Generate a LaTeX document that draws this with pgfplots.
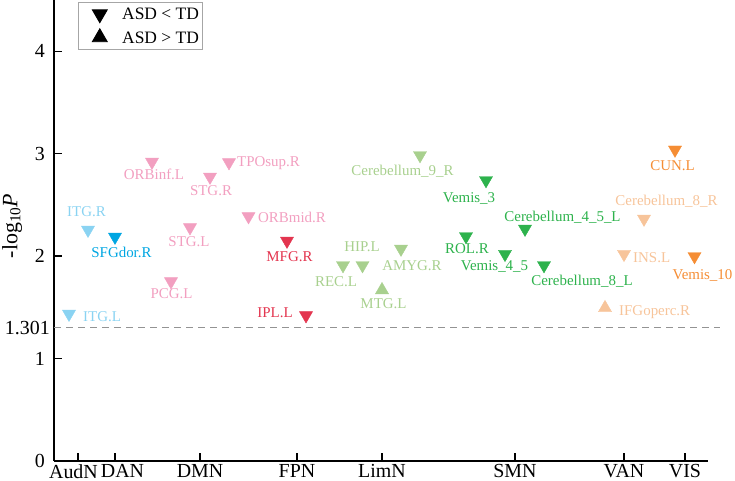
\documentclass[border=0pt]{standalone}
\usepackage{fontspec}
\setmainfont{Liberation Serif}
\usepackage{pgfplots}
\pgfplotsset{compat=1.18}

% network colours
\definecolor{audn}{HTML}{8AD3F2}
\definecolor{dan}{HTML}{00A6E2}
\definecolor{dmn}{HTML}{F29FC0}
\definecolor{fpn}{HTML}{E3354F}
\definecolor{limn}{HTML}{A8D08E}
\definecolor{smn}{HTML}{2DB24C}
\definecolor{van}{HTML}{F7C49A}
\definecolor{vis}{HTML}{F58D34}

\pgfplotsset{
  down/.style={only marks, forget plot, mark=triangle*, mark size=7.6bp,
    color=#1, mark options={rotate=180, fill=#1, draw=#1}},
  up/.style={only marks, forget plot, mark=triangle*, mark size=7.6bp,
    color=#1, mark options={fill=#1, draw=#1}},
}
\tikzset{lab/.style={inner sep=0pt, text height=9.9bp, text depth=0pt,
    font=\fontsize{15}{18}\selectfont}}

\begin{document}
\begin{tikzpicture}
\begin{axis}[
  at={(0,0)}, anchor=south west,
  scale only axis, width=654bp, height=461bp,
  xmin=0, xmax=654, ymin=0, ymax=4.5,
  clip=false,
  axis lines=left, axis line style={-, line width=1.4bp},
  tick style={line width=1.4bp, black}, tick align=inside, major tick length=8bp,
  xtick={24,61,146,243,328,461,570,631},
  xticklabels={AudN\hspace*{9bp},\hspace*{15bp}DAN,DMN,FPN,LimN,SMN,VAN,VIS},
  ytick={0,1,2,3,4},
  extra y ticks={1.301}, extra y tick labels={1.301},
  extra y tick style={major tick length=0pt, yticklabel style={xshift=5bp}},
  /pgf/number format/assume math mode=true,
  ticklabel style={font=\fontsize{20}{23}\selectfont},
  xticklabel style={inner sep=0pt, yshift=-3bp},
  yticklabel style={inner sep=0pt, xshift=-9bp},
  ylabel={-log\textsubscript{10}\textit{P}},
  ylabel style={at={(axis description cs:-0.064,0.51)}, anchor=center,
    font=\fontsize{22}{25}\selectfont},
  legend cell align=left,
  legend style={at={(axis description cs:0.0367,0.9957)}, anchor=north west,
    draw=gray!70, line width=0.8bp, font=\fontsize{17.5}{21}\selectfont,
    inner xsep=2bp, inner ysep=4bp, row sep=6bp,
    nodes={inner sep=2bp, text depth=0pt}},
]
\addlegendimage{legend image code/.code={\path (0,0) (39bp,0);
    \path plot[mark=triangle*, mark size=8.6bp,
      mark options={rotate=180, draw=none, fill=black}] coordinates {(19bp,0)};}}
\addlegendentry{ASD < TD}
\addlegendimage{legend image code/.code={\path (0,0) (39bp,0);
    \path plot[mark=triangle*, mark size=8.6bp,
      mark options={draw=none, fill=black}] coordinates {(19bp,0)};}}
\addlegendentry{ASD > TD}

% significance threshold, P = 0.05
\addplot[forget plot, gray!85, line width=1.2bp, dash pattern=on 7bp off 5bp]
  coordinates {(0,1.301) (666,1.301)};

% AudN
\addplot[down=audn] coordinates {(34,2.256) (15,1.436)};
% DAN
\addplot[down=dan] coordinates {(61,2.188)};
% DMN
\addplot[down=dmn] coordinates {(98,2.920) (156,2.774) (175,2.915)
  (136,2.280) (194.5,2.388) (117,1.753)};
% FPN
\addplot[down=fpn] coordinates {(233,2.149) (252,1.421)};
% LimN
\addplot[down=limn] coordinates {(366,2.984) (289,1.910) (308.5,1.910) (347,2.071)};
\addplot[up=limn] coordinates {(328,1.669)};
% SMN
\addplot[down=smn] coordinates {(432,2.740) (471,2.266) (412,2.193)
  (451,2.020) (490,1.910)};
% VAN
\addplot[down=van] coordinates {(590,2.364) (570,2.020)};
\addplot[up=van] coordinates {(551,1.494)};
% VIS
\addplot[down=vis] coordinates {(621,3.038) (640.5,1.998)};

% region labels
\node[lab, text=audn] at (axis cs:32.5,2.431) {ITG.R};
\node[lab, text=audn, anchor=west] at (axis cs:29,1.406) {ITG.L};
\node[lab, text=dan] at (axis cs:67.5,2.030) {SFGdor.R};
\node[lab, text=dmn] at (axis cs:100,2.792) {ORBinf.L};
\node[lab, text=dmn] at (axis cs:157,2.636) {STG.R};
\node[lab, text=dmn, anchor=west] at (axis cs:183,2.919) {TPOsup.R};
\node[lab, text=dmn] at (axis cs:135,2.138) {STG.L};
\node[lab, text=dmn, anchor=west] at (axis cs:204,2.372) {ORBmid.R};
\node[lab, text=dmn] at (axis cs:117.5,1.630) {PCG.L};
\node[lab, text=fpn] at (axis cs:235.5,1.991) {MFG.R};
\node[lab, text=fpn] at (axis cs:221,1.445) {IPL.L};
\node[lab, text=limn] at (axis cs:348.5,2.831) {Cerebellum\_9\_R};
\node[lab, text=limn] at (axis cs:308,2.089) {HIP.L};
\node[lab, text=limn] at (axis cs:282,1.747) {REC.L};
\node[lab, text=limn] at (axis cs:358,1.904) {AMYG.R};
\node[lab, text=limn] at (axis cs:329.5,1.533) {MTG.L};
\node[lab, text=smn] at (axis cs:415,2.567) {Vemis\_3};
\node[lab, text=smn] at (axis cs:508.5,2.382) {Cerebellum\_4\_5\_L};
\node[lab, text=smn] at (axis cs:413,2.070) {ROL.R};
\node[lab, text=smn] at (axis cs:440.5,1.904) {Vemis\_4\_5};
\node[lab, text=smn] at (axis cs:528,1.757) {Cerebellum\_8\_L};
\node[lab, text=van] at (axis cs:612.5,2.538) {Cerebellum\_8\_R};
\node[lab, text=van, anchor=west] at (axis cs:579,1.982) {INS.L};
\node[lab, text=van, anchor=west] at (axis cs:565,1.464) {IFGoperc.R};
\node[lab, text=vis] at (axis cs:618.5,2.880) {CUN.L};
\node[lab, text=vis] at (axis cs:648.5,1.816) {Vemis\_10};
\end{axis}
\pgfresetboundingbox
\path[use as bounding box] (-54bp,-20bp) rectangle (681bp,461bp);
\end{tikzpicture}
\end{document}
